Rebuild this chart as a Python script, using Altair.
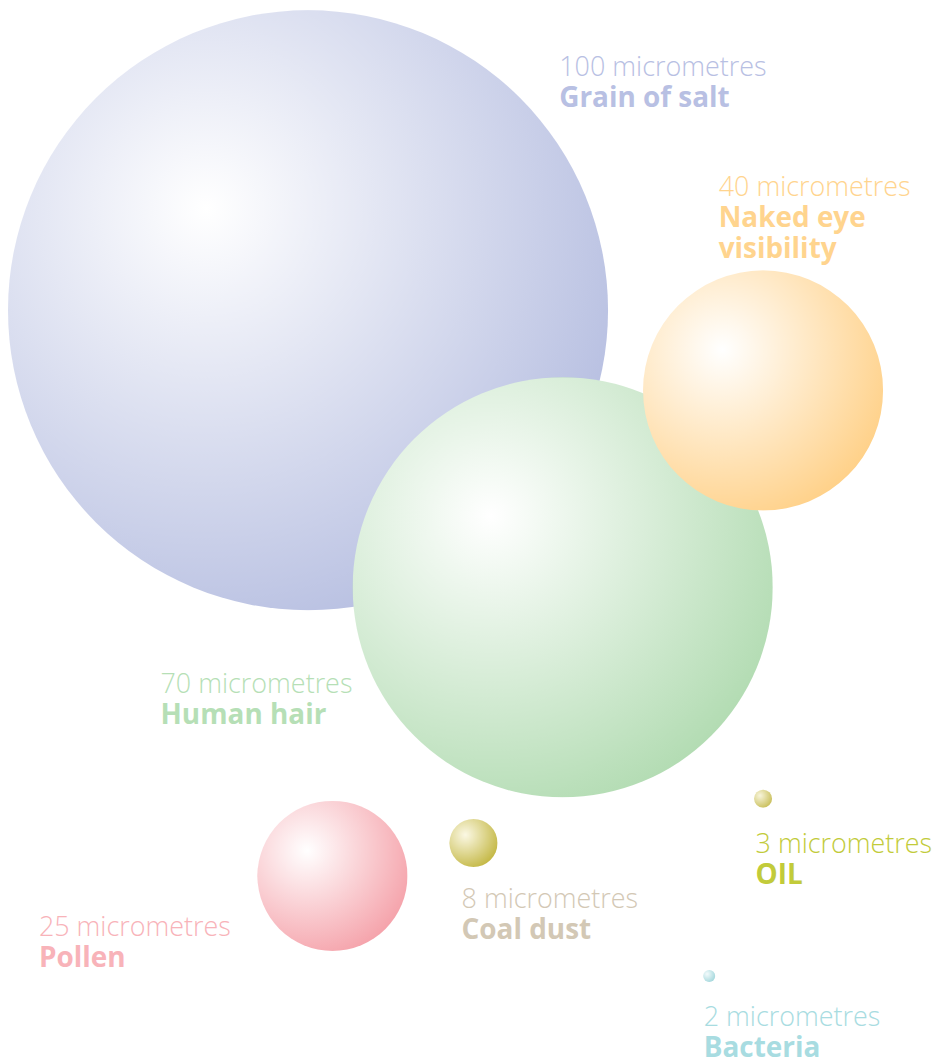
import altair as alt
import pandas as pd

# ---- data -------------------------------------------------------------
keys = ["salt", "hair", "eye", "pollen", "coal", "oil", "bacteria"]
titles = ["Grain of salt", "Human hair", "Naked eye\nvisibility", "Pollen",
          "Coal dust", "OIL", "Bacteria"]
micrometres = [100, 70, 40, 25, 8, 3, 2]
# layout position of each particle (free-form bubble layout)
pos_x = [308, 563.5, 764.5, 332.5, 474, 764.5, 710.5]
pos_y = [306.5, 584.5, 387, 874, 841, 796.5, 974.5]
# layout position of each label block
label_x = [560, 160, 720, 38, 462, 757, 705]
label_y = [72, 691, 192, 934, 906, 851, 1025]

edge_colors = ["#b7bfe1", "#b3dcb3", "#ffd189", "#f5a3ab", "#c4b845", "#c9bf5a", "#a3d7dc"]
inner_colors = ["#ffffff", "#ffffff", "#ffffff", "#ffffff", "#fbf8e4", "#f8f5dc", "#f4fbfc"]
text_colors = ["#b8c0e3", "#b6dfb6", "#ffd48e", "#f8b3b9", "#d3c8b5", "#c2cb3a", "#a8dce1"]

df = pd.DataFrame({
    "key": keys,
    "title": titles,
    "um": micrometres,
    "px": pos_x,
    "py": pos_y,
    "lx": label_x,
    "ly": label_y,
})
df["size_label"] = df["um"].astype(str) + " micrometres"

W, H = 925, 1044
xs = alt.Scale(domain=[8, 8 + W], nice=False, zero=False)
ys = alt.Scale(domain=[8, 8 + H], nice=False, zero=False, reverse=True)
size_scale = alt.Scale(type="pow", exponent=2, domain=[0, 100], range=[0, 602 ** 2])

base = alt.Chart(df)

layers = []
for k, edge, inner in zip(keys, edge_colors, inner_colors):
    grad = alt.RadialGradient(
        gradient="radial",
        x1=0.33, y1=0.33, r1=0,
        x2=0.33, y2=0.33, r2=0.74,
        stops=[alt.GradientStop(offset=0, color=inner),
               alt.GradientStop(offset=1, color=edge)],
    )
    layers.append(
        base.transform_filter(alt.datum.key == k)
        .mark_circle(opacity=1, fill=grad, strokeWidth=0)
        .encode(
            x=alt.X("px:Q", scale=xs, axis=None),
            y=alt.Y("py:Q", scale=ys, axis=None),
            size=alt.Size("um:Q", scale=size_scale, legend=None),
        )
    )

color_enc = alt.Color("key:N", scale=alt.Scale(domain=keys, range=text_colors), legend=None)

size_text = base.mark_text(
    align="left", baseline="alphabetic", font="Open Sans", fontSize=27, fontWeight=300
).encode(
    x=alt.X("lx:Q", scale=xs, axis=None),
    y=alt.Y("ly:Q", scale=ys, axis=None),
    text="size_label:N",
    color=color_enc,
)

name_text = base.mark_text(
    align="left", baseline="alphabetic", font="Open Sans", fontSize=28, fontWeight="bold",
    dy=31, lineBreak="\n", lineHeight=31
).encode(
    x=alt.X("lx:Q", scale=xs, axis=None),
    y=alt.Y("ly:Q", scale=ys, axis=None),
    text="title:N",
    color=color_enc,
)

chart = alt.layer(*layers, size_text, name_text).properties(
    width=W, height=H, padding=0
).configure_view(stroke=None)

chart.save("out.html", embed_options={"renderer": "svg", "actions": False})
